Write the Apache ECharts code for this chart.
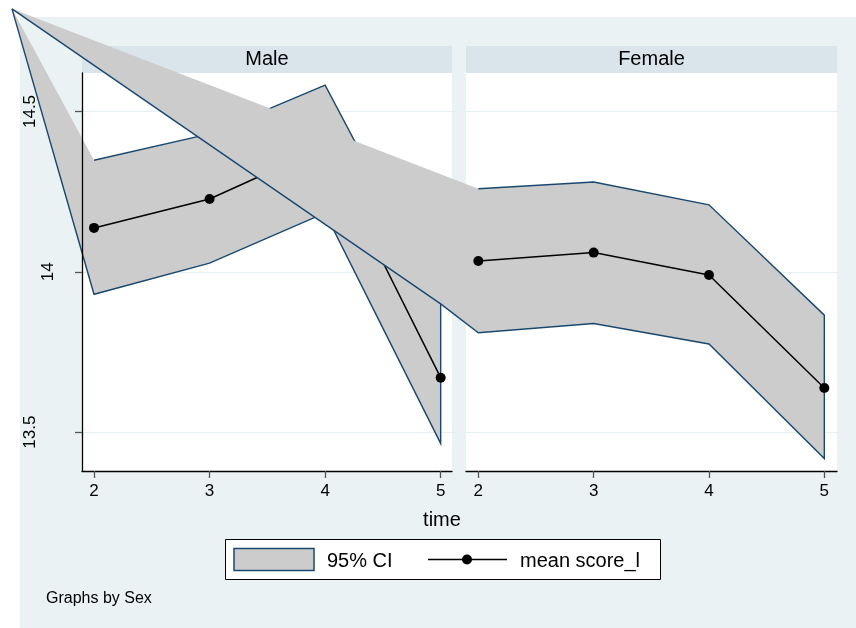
<!DOCTYPE html>
<html><head><meta charset="utf-8">
<script src="https://cdn.jsdelivr.net/npm/echarts@6/dist/echarts.min.js"></script>
<style>html,body{margin:0;padding:0;background:#fff}#c{width:856px;height:628px}</style>
</head><body><div id="c"></div>
<script>
// ---- data ----
const panels = ['Male', 'Female'];
const times = [2, 3, 4, 5];
const maleMean  = [14.137, 14.227, 14.39, 13.67];
const maleUpper = [14.348, 14.43, 14.582, 13.90];
const maleLower = [13.93, 14.027, 14.184, 13.465];
const femaleMean  = [14.034, 14.06, 13.99, 13.638];
const femaleUpper = [14.259, 14.28, 14.209, 13.865];
const femaleLower = [13.81, 13.839, 13.775, 13.418];
const strayPoint = [1.29, 14.82];   // stray vertex of the CI areas (male axis units)
const yTicks = [13.5, 14, 14.5];
const xTicks = [2, 3, 4, 5];
const xTitle = 'time';
const legendLabels = ['95% CI', 'mean score_l'];
const note = 'Graphs by Sex';

// ---- style ----
const FONT = 'Liberation Sans, Arial, sans-serif';
const CI_FILL = '#cccccc', CI_LINE = '#1a476f';
const BG = '#eaf2f3', STRIP = '#d9e5ea', GRIDC = '#e6eff1';

const chart = echarts.init(document.getElementById('c'), null, {renderer: 'canvas'});

function px(xi, yi, pt) {
  return chart.convertToPixel({xAxisIndex: xi, yAxisIndex: yi}, pt);
}

function ciShape(ptsPx) {
  // filled polygon (closing edge unstroked) + outline polyline
  return {
    type: 'group',
    children: [
      {type: 'polygon', shape: {points: ptsPx}, style: {fill: CI_FILL, stroke: null}},
      {type: 'polyline', shape: {points: ptsPx}, style: {fill: null, stroke: CI_LINE, lineWidth: 1.4}}
    ]
  };
}

const yRange = {min: 13.379, max: 14.62};

const option = {
  backgroundColor: '#ffffff',
  animation: false,
  grid: [
    {left: 82, top: 73, width: 370, height: 398, show: true, backgroundColor: '#ffffff', borderWidth: 0},
    {left: 466, top: 73, width: 371, height: 398, show: true, backgroundColor: '#ffffff', borderWidth: 0}
  ],
  xAxis: [0, 1].map(g => ({
    type: 'value', gridIndex: g,
    min: g === 0 ? 1.896 : 1.893, max: g === 0 ? 5.098 : 5.110,
    z: 10,
    axisLine: {show: true, onZero: false, lineStyle: {color: '#000', width: 1.3}},
    axisTick: {show: true, length: 7, customValues: xTicks, lineStyle: {color: '#555', width: 1.3}},
    axisLabel: {customValues: xTicks, color: '#000', fontSize: 17, fontFamily: FONT, margin: 12},
    splitLine: {show: false}
  })),
  yAxis: [
    // male gridlines
    {type: 'value', gridIndex: 0, ...yRange, z: 0,
      axisLine: {show: false}, axisLabel: {show: false},
      axisTick: {show: false, customValues: yTicks},
      splitLine: {show: true, lineStyle: {color: GRIDC, width: 1.2}}},
    // male visible axis
    {type: 'value', gridIndex: 0, ...yRange, z: 10, position: 'left',
      axisLine: {show: true, onZero: false, lineStyle: {color: '#000', width: 1.3}},
      axisTick: {show: true, length: 7, customValues: yTicks, lineStyle: {color: '#555', width: 1.3}},
      axisLabel: {customValues: yTicks, rotate: 90, margin: 25, color: '#000', fontSize: 17, fontFamily: FONT,
        formatter: v => (String(v).length > 2 ? '{w|' + v + '}' : '{n|' + v + '}'),
        rich: {
          w: {fontSize: 17, fontFamily: FONT, color: '#000', padding: [0, 0, 18, 0]},
          n: {fontSize: 17, fontFamily: FONT, color: '#000'}
        }},
      splitLine: {show: false}},
    // female gridlines
    {type: 'value', gridIndex: 1, ...yRange, z: 0,
      axisLine: {show: false}, axisLabel: {show: false},
      axisTick: {show: false, customValues: yTicks},
      splitLine: {show: true, lineStyle: {color: GRIDC, width: 1.2}}}
  ],
  series: [
    {
      type: 'custom', name: legendLabels[0], xAxisIndex: 0, yAxisIndex: 0, z: 2, clip: false,
      data: times.map((t, i) => [t, maleLower[i], maleUpper[i]]),
      renderItem: (params, api) => {
        if (params.dataIndex !== 0) return null;
        const pts = [strayPoint]
          .concat(times.map((t, i) => [t, maleLower[i]]))
          .concat(times.map((t, i) => [t, maleUpper[i]]).reverse());
        return ciShape(pts.map(p => px(0, 0, p)));
      }
    },
    {
      type: 'line', name: legendLabels[1], xAxisIndex: 0, yAxisIndex: 0, z: 3,
      data: times.map((t, i) => [t, maleMean[i]]),
      symbol: 'circle', symbolSize: 10, showSymbol: true,
      lineStyle: {color: '#000', width: 1.5}, itemStyle: {color: '#000'}
    },
    {
      type: 'custom', name: legendLabels[0], xAxisIndex: 1, yAxisIndex: 2, z: 4, clip: false,
      data: times.map((t, i) => [t, femaleLower[i], femaleUpper[i]]),
      renderItem: (params, api) => {
        if (params.dataIndex !== 0) return null;
        const male = [strayPoint, [times[times.length - 1], maleUpper[maleUpper.length - 1]]]
          .map(p => px(0, 0, p));
        const fem = times.map((t, i) => [t, femaleLower[i]])
          .concat(times.map((t, i) => [t, femaleUpper[i]]).reverse())
          .map(p => px(1, 2, p));
        return ciShape(male.concat(fem));
      }
    },
    {
      type: 'line', name: legendLabels[1], xAxisIndex: 1, yAxisIndex: 2, z: 5,
      data: times.map((t, i) => [t, femaleMean[i]]),
      symbol: 'circle', symbolSize: 10, showSymbol: true,
      lineStyle: {color: '#000', width: 1.5}, itemStyle: {color: '#000'}
    }
  ],
  graphic: [
    {type: 'rect', z: -100, silent: true, shape: {x: 20, y: 17, width: 836, height: 611}, style: {fill: BG}},
    {type: 'rect', z: 1, shape: {x: 82, y: 46, width: 370, height: 27}, style: {fill: STRIP}},
    {type: 'rect', z: 1, shape: {x: 466, y: 46, width: 371, height: 27}, style: {fill: STRIP}},
    {type: 'text', z: 1, x: 267, y: 59.5, style: {text: panels[0], font: '20px ' + FONT, fill: '#000', textAlign: 'center', textVerticalAlign: 'middle'}},
    {type: 'text', z: 1, x: 651.5, y: 59.5, style: {text: panels[1], font: '20px ' + FONT, fill: '#000', textAlign: 'center', textVerticalAlign: 'middle'}},
    {type: 'text', z: 1, x: 442, y: 520, style: {text: xTitle, font: '20px ' + FONT, fill: '#000', textAlign: 'center', textVerticalAlign: 'middle'}},
    // legend
    {type: 'rect', z: 20, shape: {x: 225.5, y: 539.5, width: 435, height: 40}, style: {fill: '#fff', stroke: '#000', lineWidth: 1}},
    {type: 'rect', z: 21, shape: {x: 234, y: 548.5, width: 80, height: 22}, style: {fill: CI_FILL, stroke: CI_LINE, lineWidth: 1.5}},
    {type: 'text', z: 21, x: 327, y: 561, style: {text: legendLabels[0], font: '20px ' + FONT, fill: '#000', textVerticalAlign: 'middle'}},
    {type: 'line', z: 21, shape: {x1: 428, y1: 559.5, x2: 507, y2: 559.5}, style: {stroke: '#000', lineWidth: 1.5}},
    {type: 'circle', z: 22, shape: {cx: 467, cy: 559.5, r: 5}, style: {fill: '#000'}},
    {type: 'text', z: 21, x: 520, y: 561, style: {text: legendLabels[1], font: '20px ' + FONT, fill: '#000', textVerticalAlign: 'middle'}},
    {type: 'text', z: 1, x: 46, y: 599, style: {text: note, font: '16px ' + FONT, fill: '#000', textVerticalAlign: 'middle'}}
  ]
};
chart.setOption(option);
</script>
</body></html>
